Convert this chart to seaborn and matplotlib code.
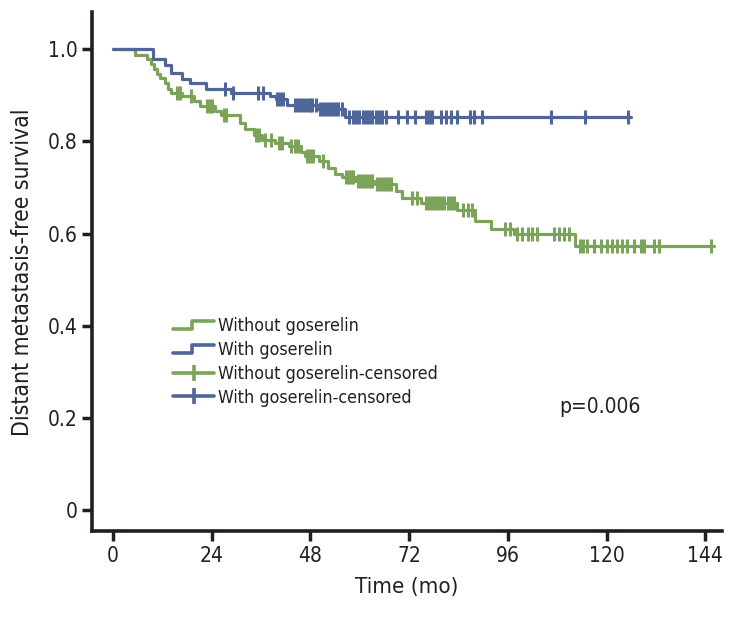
import numpy as np
import pandas as pd
import matplotlib
matplotlib.use("Agg")
import matplotlib.pyplot as plt
import seaborn as sns
from matplotlib.lines import Line2D
from matplotlib.legend_handler import HandlerBase

# Kaplan-Meier step levels (time in months, survival after the drop)
green_times = [0, 5.5, 8.4, 9.2, 9.9, 10.7, 11.4, 12.6, 13.4, 14.2, 16.8, 19.7, 21.2, 24.8,
               26.3, 30.8, 32.2, 34.4, 36.2, 39.4, 42.8, 45.8, 46.8, 50.2, 52.2, 53.9, 55.6,
               59.0, 63.6, 68.9, 70.4, 74.9, 83.7, 88.0, 91.8, 97.4, 112.3]
green_surv = [1.0, 0.987, 0.978, 0.968, 0.958, 0.947, 0.937, 0.927, 0.914, 0.906, 0.898, 0.887,
              0.877, 0.866, 0.857, 0.840, 0.826, 0.814, 0.804, 0.797, 0.790, 0.778, 0.768, 0.757,
              0.743, 0.729, 0.722, 0.714, 0.707, 0.693, 0.678, 0.667, 0.652, 0.627, 0.609, 0.598,
              0.572]
green_censor = [15.6, 16.2, 18.9, 22.8, 23.5, 24.1, 26.9, 27.6, 34.8, 35.6, 36.9, 38.4, 40.3,
                41.0, 43.4, 44.2, 44.9, 47.2, 47.9, 48.6, 51.0, 56.7, 57.3, 57.9, 58.4, 59.6,
                60.3, 61.0, 61.7, 62.4, 63.1, 64.2, 64.9, 65.6, 66.3, 67.0, 67.7, 72.8, 74.0,
                76.2, 76.9, 77.6, 78.3, 79.0, 79.8, 80.6, 81.4, 82.2, 83.0, 85.2, 86.4, 87.4,
                95.4, 96.6, 98.3, 99.5, 100.8, 102.0, 103.2, 107.3, 108.5, 109.7, 110.9, 113.6,
                114.3, 115.2, 117.0, 118.7, 120.1, 121.4, 122.6, 123.8, 125.0, 126.7, 128.4,
                129.1, 131.6, 132.8, 145.3]
green_last = 146.2

blue_times = [0, 9.8, 12.6, 14.2, 16.7, 18.7, 22.7, 28.8, 38.1, 39.6, 42.3, 49.8, 56.4]
blue_surv = [1.0, 0.978, 0.966, 0.949, 0.935, 0.927, 0.914, 0.906, 0.899, 0.891, 0.878, 0.870,
             0.852]
blue_censor = [27.3, 29.3, 35.2, 36.4, 40.0, 40.7, 41.3, 44.3, 45.0, 45.7, 46.4, 47.1, 47.8,
               48.5, 49.3, 50.3, 51.0, 51.8, 52.5, 53.3, 54.0, 54.8, 55.6, 57.5, 58.3, 59.1,
               59.9, 60.7, 61.5, 62.3, 63.1, 63.9, 64.7, 65.5, 66.3, 69.2, 71.4, 73.4, 76.2,
               76.9, 77.6, 79.8, 81.0, 82.3, 83.7, 86.7, 87.9, 89.8, 106.6, 114.7, 125.3]
blue_last = 126.0

labels = ["Without goserelin", "With goserelin",
          "Without goserelin-censored", "With goserelin-censored"]
green = "#7ba45a"
blue = "#4f6698"
ink = "#231f20"

sns.set_style("ticks")
plt.rcParams["font.family"] = ["DejaVu Sans"]
plt.rcParams["font.stretch"] = "condensed"


def curve_df(times, surv, last, name):
    t = list(times) + [last]
    s = list(surv) + [surv[-1]]
    return pd.DataFrame({"time": t, "surv": s, "group": name})


def level_at(times, surv, pts):
    idx = np.searchsorted(times, pts, side="right") - 1
    return np.array(surv)[idx]


df = pd.concat([curve_df(green_times, green_surv, green_last, labels[0]),
                curve_df(blue_times, blue_surv, blue_last, labels[1])])

fig = plt.figure(figsize=(7.41, 6.17), dpi=100)
ax = fig.add_axes([0.124, 0.139, 0.850, 0.841])

sns.lineplot(data=df, x="time", y="surv", hue="group", palette=[green, blue],
             drawstyle="steps-post", estimator=None, sort=False, lw=2.3, ax=ax, legend=False)

# censored observations
ax.plot(green_censor, level_at(green_times, green_surv, green_censor), ls="none",
        marker="|", ms=10, mew=2.2, color=green)
ax.plot(blue_censor, level_at(blue_times, blue_surv, blue_censor), ls="none",
        marker="|", ms=10, mew=2.2, color=blue)

ax.set_xlim(-5.1, 148)
ax.set_ylim(-0.046, 1.08)
ax.set_xticks([0, 24, 48, 72, 96, 120, 144])
ax.set_yticks([0, 0.2, 0.4, 0.6, 0.8, 1.0])
ax.set_yticklabels(["0", "0.2", "0.4", "0.6", "0.8", "1.0"])
ax.tick_params(axis="both", length=7, width=2.5, labelsize=15, color=ink, labelcolor=ink)
for side in ["left", "bottom"]:
    ax.spines[side].set_linewidth(2.6)
    ax.spines[side].set_color(ink)
sns.despine(ax=ax)

ax.set_xlabel("Time (mo)", fontsize=16, color=ink, labelpad=8)
ax.set_ylabel("Distant metastasis-free survival", fontsize=16.5, color=ink, labelpad=10)

ax.text(118.5, 0.224, "p=0.006", ha="center", va="center", fontsize=15, color=ink)


class StepHandler(HandlerBase):
    def create_artists(self, legend, orig_handle, xdescent, ydescent, width, height,
                       fontsize, trans):
        x0, y0, h = -xdescent, -ydescent, height
        xs = [x0, x0 + width * 0.45, x0 + width * 0.45, x0 + width]
        ys = [y0 + h * 0.15, y0 + h * 0.15, y0 + h * 0.8, y0 + h * 0.8]
        ln = Line2D(xs, ys, color=orig_handle.get_color(), lw=orig_handle.get_linewidth(),
                    transform=trans)
        return [ln]


h_green = Line2D([], [], color=green, lw=2.6)
h_blue = Line2D([], [], color=blue, lw=2.6)
h_gc = Line2D([], [], color=green, lw=2.6, marker="|", ms=12, mew=2.6)
h_bc = Line2D([], [], color=blue, lw=2.6, marker="|", ms=12, mew=2.6)
leg = ax.legend([h_green, h_blue, h_gc, h_bc], labels, loc="upper left",
                bbox_to_anchor=(0.115, 0.43), frameon=False, fontsize=12.8, handlelength=2.3,
                handletextpad=0.2, labelspacing=0.33, borderpad=0,
                handler_map={h_green: StepHandler(), h_blue: StepHandler()})
for t in leg.get_texts():
    t.set_color(ink)

fig.savefig("out.png", dpi=100)
